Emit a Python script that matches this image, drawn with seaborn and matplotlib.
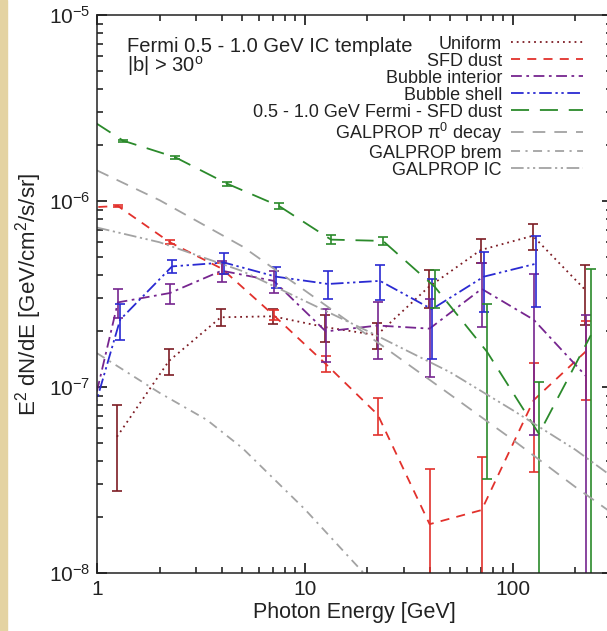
import numpy as np
import pandas as pd
import matplotlib
matplotlib.use("Agg")
import matplotlib.pyplot as plt
import seaborn as sns
from matplotlib.lines import Line2D
from matplotlib.patches import Rectangle
from matplotlib.ticker import FixedLocator, FuncFormatter, LogLocator, NullFormatter

# energy bins (GeV); first bin lies below the plotted range
E_BINS = [0.708, 1.26, 2.24, 3.98, 7.08, 12.6, 22.4, 39.8, 70.8, 126, 224]

uniform = [np.nan, 5.4e-8, 1.38e-7, 2.37e-7, 2.4e-7, 2.1e-7, 1.9e-7, 3.45e-7, 5.45e-7, 6.5e-7, 3.35e-7]
uniform_err = [0, 2.65e-8, 2.2e-8, 2.5e-8, 2.3e-8, 3.5e-8, 3e-8, 8e-8, 8e-8, 1.05e-7, 1.2e-7]

sfd = [9.1e-7, 9.4e-7, 6.0e-7, 4.33e-7, 2.43e-7, 1.33e-7, 7.1e-8, 1.83e-8, 2.18e-8, 8.5e-8, 1.55e-7]
sfd_err = [0, 1.5e-8, 1.5e-8, 3e-8, 1.5e-8, 1.3e-8, 1.6e-8, 1.8e-8, 2.0e-8, 5e-8, 7e-8]

interior = [1.85e-8, 2.85e-7, 3.2e-7, 4.22e-7, 3.72e-7, 1.99e-7, 2.14e-7, 2.06e-7, 3.37e-7, 2.3e-7, 1.15e-7]
interior_err = [0, 5e-8, 4e-8, 5.5e-8, 5e-8, 6.3e-8, 7.3e-8, 9.3e-8, 1.28e-7, 1.75e-7, 1.3e-7]

shell = [2.5e-8, 2.3e-7, 4.45e-7, 4.67e-7, 3.92e-7, 3.58e-7, 3.72e-7, 2.62e-7, 3.92e-7, 4.6e-7, np.nan]
shell_err = [0, 5e-8, 3.5e-8, 6e-8, 5e-8, 6e-8, 8e-8, 1.2e-7, 1.4e-7, 1.9e-7, 0]

fermi_sfd = [3.2e-6, 2.11e-6, 1.72e-6, 1.24e-6, 9.4e-7, 6.2e-7, 6.1e-7, 3.45e-7, 1.55e-7, 5.6e-8, 1.9e-7]
fermi_sfd_err = [0, 3e-8, 3e-8, 3e-8, 3.5e-8, 3.5e-8, 3e-8, 8e-8, 1.23e-7, 5e-8, 2.4e-7]

# GALPROP model curves
E_MODEL = [1, 2, 5, 10, 20, 50, 100, 200, 300]
pi0 = [1.46e-6, 1.01e-6, 5.7e-7, 3.3e-7, 1.9e-7, 9.1e-8, 5.2e-8, 2.9e-8, 2.1e-8]
ic = [7.2e-7, 6.0e-7, 4.2e-7, 2.9e-7, 2.0e-7, 1.2e-7, 7.5e-8, 4.6e-8, 3.3e-8]
E_BREM = [1, 2, 3.38, 5, 10, 20, 30]
brem = [1.52e-7, 9.3e-8, 6.65e-8, 4.7e-8, 2.2e-8, 9.5e-9, 6e-9]

GRAY = "#a3a3a3"
INK = "#222222"

series = [
    ("Uniform", uniform, uniform_err, "#7d1c24", (0, (1, 2.2)), 0.99),
    ("SFD dust", sfd, sfd_err, "#e2312c", (0, (5, 4)), 1.0),
    ("Bubble interior", interior, interior_err, "#76258f", (0, (6, 2.5, 1.5, 2.5)), 1.0),
    ("Bubble shell", shell, shell_err, "#2a2ad2", (0, (7, 2, 1.3, 2, 1.3, 2)), 1.025),
    ("0.5 - 1.0 GeV Fermi - SFD dust", fermi_sfd, fermi_sfd_err, "#2b8a2b", (0, (10, 6)), 1.06),
]
models = [
    ("GALPROP $\\pi^0$ decay", E_MODEL, pi0, (0, (7, 5))),
    ("GALPROP brem", E_BREM, brem, (0, (5, 3, 1.2, 3))),
    ("GALPROP IC", E_MODEL, ic, (0, (7, 2, 1.2, 2, 1.2, 2))),
]

sns.set_style("ticks")
plt.rcParams["font.family"] = ["Liberation Sans", "DejaVu Sans"]
plt.rcParams["mathtext.fontset"] = "custom"
plt.rcParams["mathtext.rm"] = "Liberation Sans"
plt.rcParams["mathtext.it"] = "Liberation Sans:italic"
plt.rcParams["mathtext.default"] = "regular"
plt.rcParams.update({
    "xtick.direction": "in", "ytick.direction": "in",
    "xtick.top": True, "ytick.right": True,
})

fig = plt.figure(figsize=(6.07, 6.31), dpi=100)
fig.patches.append(Rectangle((0, 0), 7 / 607, 1, transform=fig.transFigure,
                             color="#e4d3a2", zorder=-1))
ax = fig.add_axes([97 / 607, 58 / 631, 515 / 607, 558 / 631])
ax.set_xscale("log")
ax.set_yscale("log")

lw = 1.3
handles = []
for label, vals, errs, color, ls, shift in series:
    df = pd.DataFrame({"E": np.array(E_BINS) * shift, "flux": vals, "err": errs})
    sns.lineplot(data=df, x="E", y="flux", ax=ax, color=color, linestyle=ls,
                 lw=lw, estimator=None, sort=False)
    pts = df.iloc[1:].dropna()
    ax.errorbar(pts["E"], pts["flux"], yerr=pts["err"], fmt="none",
                ecolor=color, elinewidth=1.2, capsize=3.5, capthick=1.2)
    handles.append(Line2D([], [], color=color, linestyle=ls, lw=lw, label=label))

for label, ex, vals, ls in models:
    df = pd.DataFrame({"E": ex, "flux": vals})
    sns.lineplot(data=df, x="E", y="flux", ax=ax, color=GRAY, linestyle=ls,
                 lw=lw, estimator=None, sort=False)
    handles.append(Line2D([], [], color=GRAY, linestyle=ls, lw=lw, label=label))

ax.set_xlim(1, 300)
ax.set_ylim(1e-8, 1e-5)

ax.xaxis.set_major_locator(FixedLocator([1, 10, 100]))
ax.xaxis.set_major_formatter(FuncFormatter(lambda v, p: f"{v:g}"))
ax.xaxis.set_minor_locator(LogLocator(base=10, subs=np.arange(2, 10), numticks=20))
ax.xaxis.set_minor_formatter(NullFormatter())
ax.yaxis.set_major_locator(FixedLocator([1e-8, 1e-7, 1e-6, 1e-5]))
ax.yaxis.set_minor_locator(LogLocator(base=10, subs=np.arange(2, 10), numticks=20))
ax.yaxis.set_minor_formatter(NullFormatter())

ax.tick_params(which="both", direction="in", bottom=True, left=True, top=True, right=True)
ax.tick_params(which="major", length=7.5, width=1.3, pad=5, labelsize=15, labelcolor=INK)
ax.tick_params(which="minor", length=4.5, width=1.2)
for sp in ax.spines.values():
    sp.set_linewidth(1.1)
    sp.set_color(INK)

ax.set_xlabel("Photon Energy [GeV]", fontsize=15.5, color=INK, labelpad=2)
ax.set_ylabel("E$^2$ dN/dE [GeV/cm$^2$/s/sr]", fontsize=16, color=INK, labelpad=3)

ax.text(0.058, 0.943, "Fermi 0.5 - 1.0 GeV IC template", transform=ax.transAxes,
        fontsize=14.5, va="center", ha="left", color=INK)
ax.text(0.058, 0.908, "|b| > 30$^o$", transform=ax.transAxes,
        fontsize=14.5, va="center", ha="left", color=INK)

ax.legend(handles=handles, loc="upper right", bbox_to_anchor=(0.944, 0.963),
          frameon=False, markerfirst=False, fontsize=13, handlelength=4.0,
          handletextpad=0.5, labelspacing=0.0, borderpad=0, borderaxespad=0,
          labelcolor=INK)

fig.savefig("out.png", dpi=100)
